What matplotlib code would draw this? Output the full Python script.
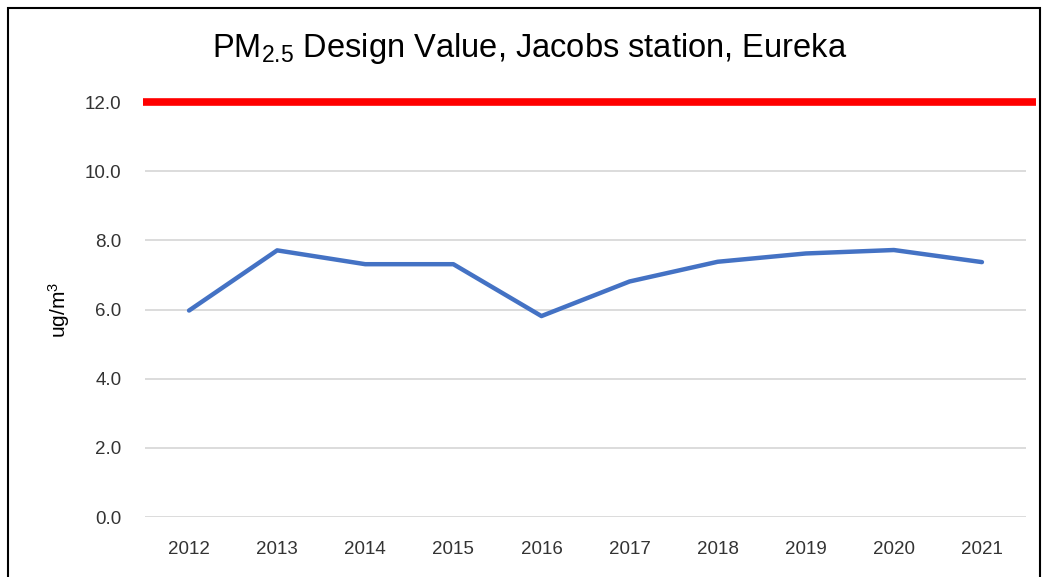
import matplotlib
matplotlib.use("Agg")
import matplotlib.pyplot as plt
from matplotlib.patches import Rectangle

# data
years = ["2012", "2013", "2014", "2015", "2016", "2017", "2018", "2019", "2020", "2021"]
design_value = [5.97, 7.71, 7.31, 7.31, 5.81, 6.81, 7.38, 7.62, 7.72, 7.37]
standard = 12.0
y_ticks = [0, 2, 4, 6, 8, 10, 12]

plt.rcParams["font.family"] = ["Liberation Sans", "DejaVu Sans"]
plt.rcParams["mathtext.default"] = "regular"

fig = plt.figure(figsize=(10.46, 5.77), dpi=100)
ax = fig.add_axes([145 / 1046, 60 / 577, 881 / 1046, 415 / 577])

x = list(range(len(years)))
ax.plot(x, design_value, color="#4472C4", lw=3.2, solid_capstyle="round", zorder=3)
# annual standard line, runs a bit past the plot area like the original
ax.axhline(standard, xmin=-0.002, xmax=1.011, color="#FF0000", lw=5.5,
           solid_capstyle="butt", clip_on=False, zorder=4)

ax.set_xlim(-0.5, len(years) - 0.5)
ax.set_ylim(0, 12)
ax.set_xticks(x)
ax.set_xticklabels(years)
ax.set_yticks(y_ticks)
ax.set_yticklabels([f"{v:.1f}" for v in y_ticks])
ax.tick_params(length=0, labelsize=13.5, labelcolor="#333333")
ax.tick_params(axis="x", pad=17)
ax.tick_params(axis="y", pad=17)
ax.grid(axis="y", color="#d9d9d9", lw=1.3)
ax.set_axisbelow(True)
for s in ax.spines.values():
    s.set_visible(False)

ax.set_ylabel("ug/m$^3$", fontsize=15, color="#000000")
ax.yaxis.set_label_coords(-0.083, 0.5)

fig.text(530 / 1046, 1 - 48 / 577, "PM$_{2.5}$ Design Value, Jacobs station, Eureka",
         ha="center", va="center", fontsize=23.5, color="#000000")

# outer chart frame
fig.patches.append(Rectangle((8 / 1046, -0.02), 1032 / 1046, 1 - 8 / 577 + 0.02,
                             transform=fig.transFigure, fill=False, ec="black", lw=1.5))

fig.savefig("out.png", dpi=100)
